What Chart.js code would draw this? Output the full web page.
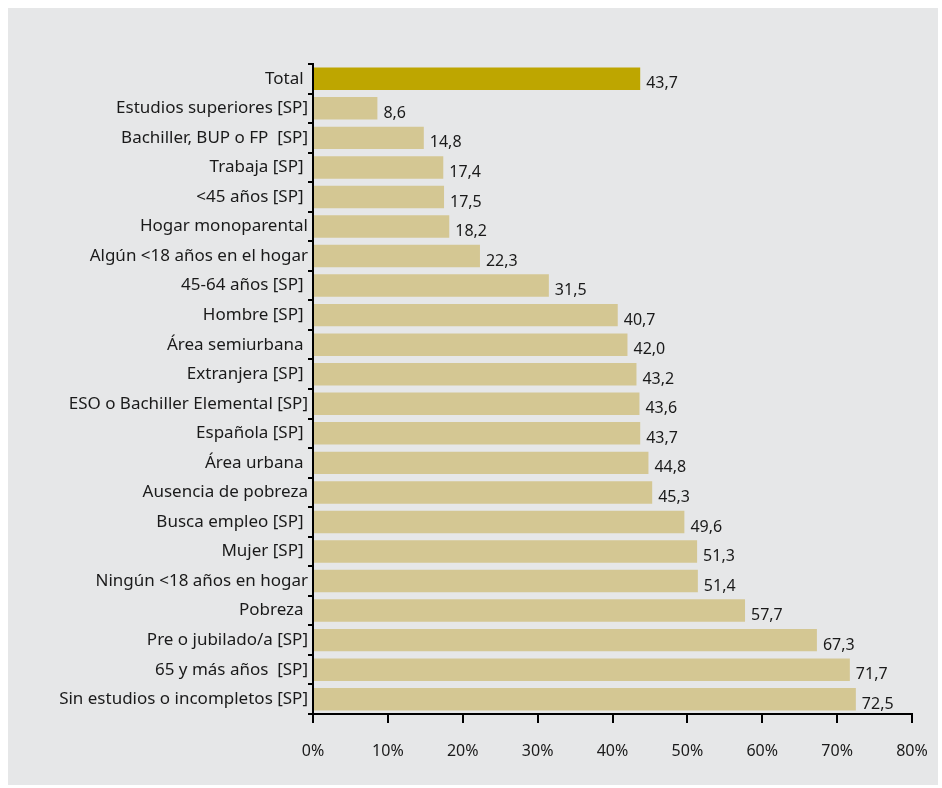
<!DOCTYPE html>
<html>
<head>
<meta charset="utf-8">
<script src="https://cdn.jsdelivr.net/npm/chart.js@4"></script>
<style>
  body { margin: 0; background: #fff; }
  #wrap { position: absolute; left: 8px; top: 8px; width: 930px; height: 777px; background: #e6e7e8; }
</style>
</head>
<body>
<div id="wrap"><canvas id="migrafica" width="930" height="777"></canvas></div>
<script>
const categorias = [
  "Total ",
  "Estudios superiores [SP]",
  "Bachiller, BUP o FP  [SP]",
  "Trabaja [SP] ",
  "<45 años [SP] ",
  "Hogar monoparental",
  "Algún <18 años en el hogar",
  "45-64 años [SP] ",
  "Hombre [SP] ",
  "Área semiurbana ",
  "Extranjera [SP] ",
  "ESO o Bachiller Elemental [SP]",
  "Española [SP] ",
  "Área urbana ",
  "Ausencia de pobreza",
  "Busca empleo [SP] ",
  "Mujer [SP] ",
  "Ningún <18 años en hogar",
  "Pobreza ",
  "Pre o jubilado/a [SP]",
  "65 y más años  [SP]",
  "Sin estudios o incompletos [SP]"
];
const valores = [43.7, 8.6, 14.8, 17.4, 17.5, 18.2, 22.3, 31.5, 40.7, 42.0, 43.2, 43.6, 43.7, 44.8, 45.3, 49.6, 51.3, 51.4, 57.7, 67.3, 71.7, 72.5];
const ticksX = [0, 10, 20, 30, 40, 50, 60, 70, 80];

const fuente = "'Noto Sans', Lato, sans-serif";

const etiquetas = {
  id: "etiquetas",
  afterDatasetsDraw(chart) {
    const ctx = chart.ctx;
    const meta = chart.getDatasetMeta(0);
    ctx.save();
    ctx.font = "16px " + fuente;
    ctx.fillStyle = "#1a1a1a";
    ctx.textAlign = "left";
    ctx.textBaseline = "middle";
    meta.data.forEach((bar, i) => {
      ctx.fillText(valores[i].toFixed(1).replace(".", ","), bar.x + 6, bar.y + 5);
    });
    ctx.restore();
  }
};

const config = {
  type: "bar",
  data: {
    labels: categorias,
    datasets: [{
      data: valores,
      backgroundColor: valores.map((v, i) => (i === 0 ? "#bea600" : "#d4c793")),
      barPercentage: 0.76,
      categoryPercentage: 1
    }]
  },
  options: {
    indexAxis: "y",
    responsive: false,
    animation: false,
    layout: { padding: { top: 56, right: 26, left: 0, bottom: 0 } },
    plugins: { legend: { display: false }, tooltip: { enabled: false } },
    scales: {
      x: {
        min: 0,
        max: 80,
        afterBuildTicks: (s) => { s.ticks = ticksX.map((v) => ({ value: v })); },
        afterFit: (s) => { s.height = 71; s.paddingRight = 0; s.paddingLeft = 0; },
        border: { color: "#000", width: 2 },
        grid: { drawOnChartArea: false, drawTicks: true, tickLength: 9, color: "#000", lineWidth: 2 },
        ticks: {
          padding: 19,
          color: "#1a1a1a",
          font: { family: fuente, size: 16 },
          maxRotation: 0,
          callback: (v) => v + "%"
        }
      },
      y: {
        afterFit: (s) => { s.width = 305; },
        border: { color: "#000", width: 2 },
        grid: { drawOnChartArea: false, drawTicks: true, tickLength: 5, color: "#000", lineWidth: 2, offset: true },
        ticks: {
          padding: 0,
          color: "#1a1a1a",
          font: { family: fuente, size: 17 },
          autoSkip: false
        }
      }
    }
  },
  plugins: [etiquetas]
};

const ctx = document.getElementById("migrafica").getContext("2d");
window.myBar = new Chart(ctx, config);
</script>
</body>
</html>
